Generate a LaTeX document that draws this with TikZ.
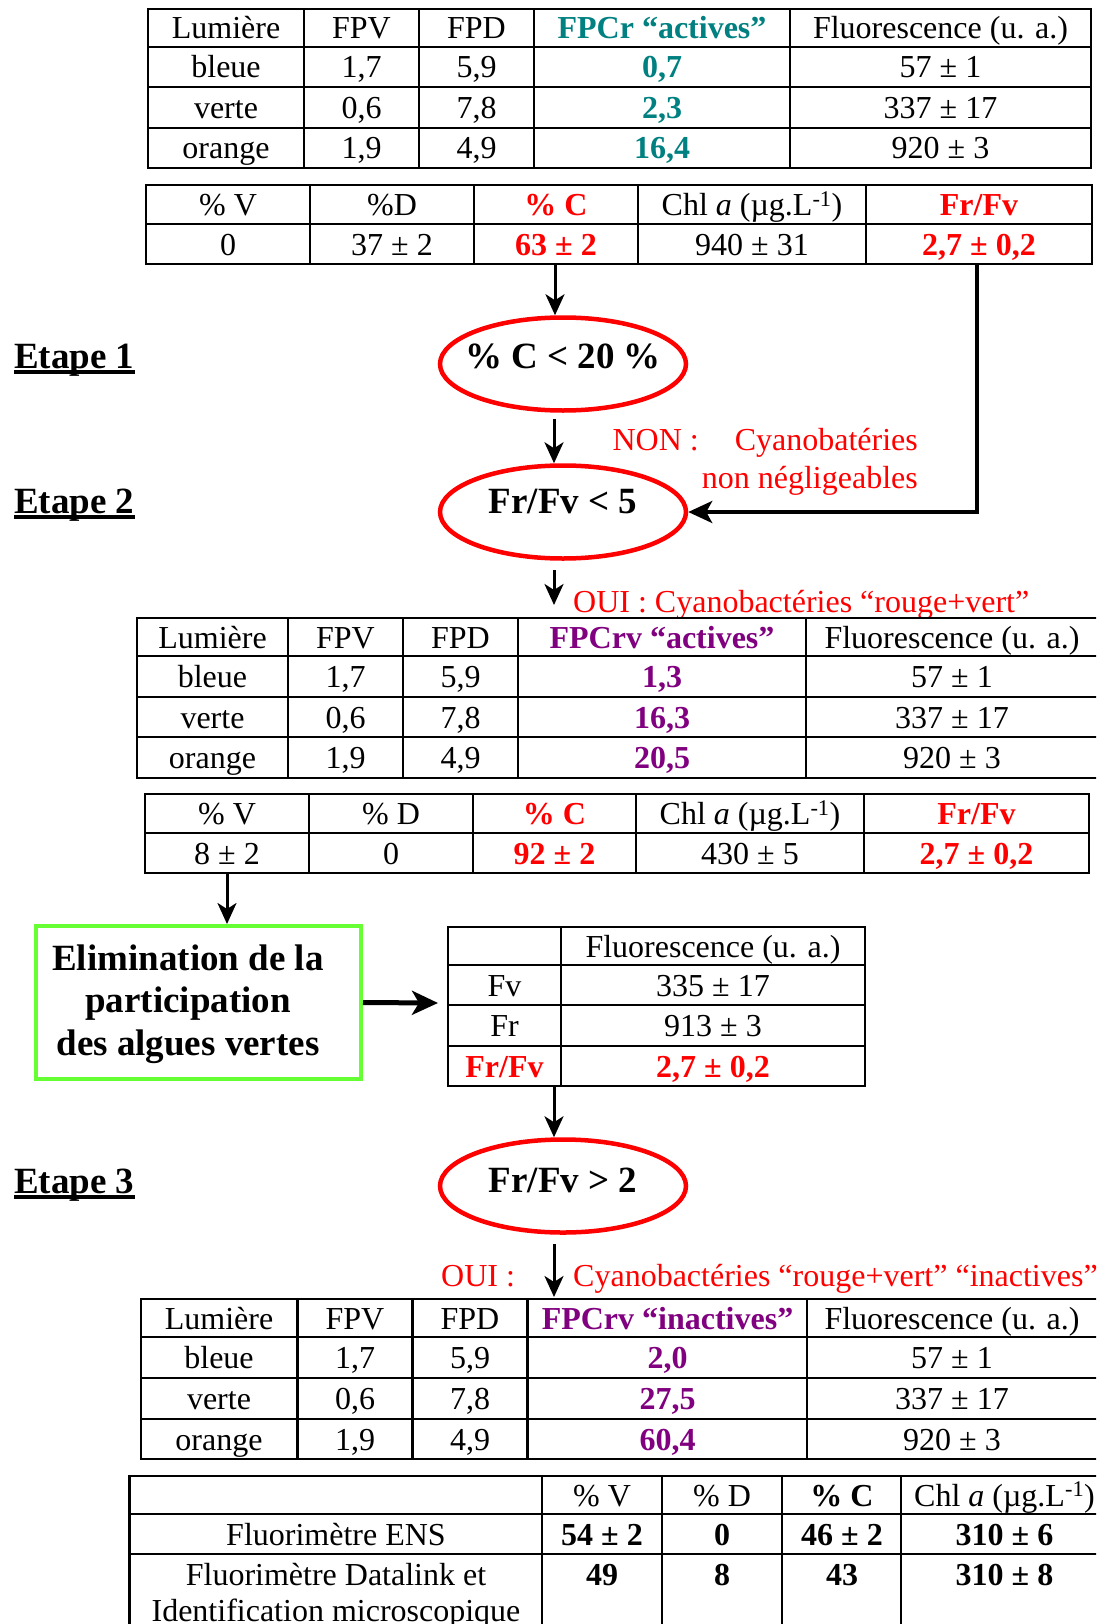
\documentclass[tikz,border=0pt]{standalone}
\usepackage{fontspec}
\setmainfont{Liberation Serif}
\usetikzlibrary{positioning,arrows.meta,shapes.geometric}
\definecolor{cteal}{RGB}{0,128,128}
\definecolor{cpurple}{RGB}{128,0,128}
\definecolor{cred}{RGB}{255,0,0}
\definecolor{cgreen}{RGB}{102,255,51}

\begin{document}
\begin{tikzpicture}[x=1pt, y=-1pt,
  every node/.style={font=\fontsize{32}{38}\selectfont},
  cell/.style={anchor=base, yshift=-11pt, inner sep=0pt},
  bcell/.style={cell, font=\fontsize{32}{38}\selectfont\bfseries},
  tealb/.style={bcell, text=cteal},
  purpb/.style={bcell, text=cpurple},
  redb/.style={bcell, text=cred},
  tab/.style={line width=2.5pt},
  cond/.style={ellipse, draw=cred, line width=4.5pt, minimum width=246pt, minimum height=93pt,
    inner xsep=-30pt, inner ysep=0pt, text height=26pt, text depth=18pt,
    font=\fontsize{37}{42}\selectfont\bfseries},
  etape/.style={anchor=base west, inner sep=0pt, font=\fontsize{37}{42}\selectfont\bfseries},
  note/.style={text=cred, inner sep=0pt},
  arr/.style={-{Stealth[length=21pt, width=19pt, inset=6pt]}, line width=3pt}]
  \useasboundingbox (0,0) rectangle (1096,1624);
  \clip (0,0) rectangle (1096,1624);

  % Table 1: FPCr actives
  \draw[tab] (148,9) rectangle (1091,168);
  \draw[tab] (148,47) -- (1091,47) (148,87) -- (1091,87) (148,128) -- (1091,128)
    (304,9) -- (304,168) (419,9) -- (419,168) (534,9) -- (534,168) (790,9) -- (790,168);
  \node[cell] (a11) at (226,28) {Lumière};
  \node[cell] (a12) at (361.5,28) {FPV};
  \node[cell] (a13) at (476.5,28) {FPD};
  \node[tealb] (a14) at (662,28) {FPCr “actives”};
  \node[cell] (a15) at (940.5,28) {Fluorescence (u. a.)};
  \node[cell] (a21) at (226,67) {bleue};
  \node[cell] (a22) at (361.5,67) {1,7};
  \node[cell] (a23) at (476.5,67) {5,9};
  \node[tealb] (a24) at (662,67) {0,7};
  \node[cell] (a25) at (940.5,67) {57 ± 1};
  \node[cell] (a31) at (226,107.5) {verte};
  \node[cell] (a32) at (361.5,107.5) {0,6};
  \node[cell] (a33) at (476.5,107.5) {7,8};
  \node[tealb] (a34) at (662,107.5) {2,3};
  \node[cell] (a35) at (940.5,107.5) {337 ± 17};
  \node[cell] (a41) at (226,148) {orange};
  \node[cell] (a42) at (361.5,148) {1,9};
  \node[cell] (a43) at (476.5,148) {4,9};
  \node[tealb] (a44) at (662,148) {16,4};
  \node[cell] (a45) at (940.5,148) {920 ± 3};

  % Table 2: composition before step 1
  \draw[tab] (146,185) rectangle (1092,264);
  \draw[tab] (146,224) -- (1092,224)
    (310,185) -- (310,264) (474,185) -- (474,264) (638,185) -- (638,264) (866,185) -- (866,264);
  \node[cell] (b11) at (228,204.5) {\% V};
  \node[cell] (b12) at (392,204.5) {\%D};
  \node[redb] (b13) at (556,204.5) {\% C};
  \node[cell] (b14) at (752,204.5) {Chl \textit{a} (µg.L\textsuperscript{-1})};
  \node[redb] (b15) at (979,204.5) {Fr/Fv};
  \node[cell] (b21) at (228,244) {0};
  \node[cell] (b22) at (392,244) {37 ± 2};
  \node[redb] (b23) at (556,244) {63 ± 2};
  \node[cell] (b24) at (752,244) {940 ± 31};
  \node[redb] (b25) at (979,244) {2,7 ± 0,2};
  \coordinate (pc1) at (555,264);
  \coordinate (fr1) at (977,264);

  % Steps 1 and 2
  \node[etape] (et1) at (14,368) {Etape 1};
  \draw[line width=4pt] ([yshift=-4pt]et1.base west) -- ([yshift=-4pt]et1.base east);
  \node[etape] (et2) at (14,513) {Etape 2};
  \draw[line width=4pt] ([yshift=-4pt]et2.base west) -- ([yshift=-4pt]et2.base east);
  \node[cond] (c1) at (563,364) {\% C < 20 \%};
  \node[cond, text depth=24pt] (c2) at (563,512) {Fr/Fv < 5};
  \draw[arr] (pc1) -- ([xshift=-8pt]c1.north);
  \draw[arr] ([xshift=-9pt,yshift=-6pt]c1.south) -- ([xshift=-9pt]c2.north);
  \draw[line width=3.5pt, -{Stealth[length=24pt, width=22pt, inset=6pt]}] (fr1) |- (c2.east);
  \node[note, anchor=base east] (non1) at (918,450) {NON :\hspace{36pt}Cyanobatéries};
  \node[note, anchor=base east] (non2) at (918,488) {non négligeables};
  \coordinate (t3n) at (554,605);
  \draw[arr] ([xshift=-9pt,yshift=-9.5pt]c2.south) -- (t3n);
  \node[note, anchor=base west] (oui1) at (573,612) {OUI : Cyanobactéries “rouge+vert”};

  % Table 3: FPCrv actives
  \draw[tab] (137,618) rectangle (1100,778);
  \draw[tab] (137,656) -- (1100,656) (137,697) -- (1100,697) (137,737) -- (1100,737)
    (288,618) -- (288,778) (403,618) -- (403,778) (518,618) -- (518,778) (806,618) -- (806,778);
  \node[cell] (c11) at (212.5,637) {Lumière};
  \node[cell] (c12) at (345.5,637) {FPV};
  \node[cell] (c13) at (460.5,637) {FPD};
  \node[purpb] (c14) at (662,637) {FPCrv “actives”};
  \node[cell] (c15) at (952,637) {Fluorescence (u. a.)};
  \node[cell] (c21) at (212.5,676.5) {bleue};
  \node[cell] (c22) at (345.5,676.5) {1,7};
  \node[cell] (c23) at (460.5,676.5) {5,9};
  \node[purpb] (c24) at (662,676.5) {1,3};
  \node[cell] (c25) at (952,676.5) {57 ± 1};
  \node[cell] (c31) at (212.5,717) {verte};
  \node[cell] (c32) at (345.5,717) {0,6};
  \node[cell] (c33) at (460.5,717) {7,8};
  \node[purpb] (c34) at (662,717) {16,3};
  \node[cell] (c35) at (952,717) {337 ± 17};
  \node[cell] (c41) at (212.5,757.5) {orange};
  \node[cell] (c42) at (345.5,757.5) {1,9};
  \node[cell] (c43) at (460.5,757.5) {4,9};
  \node[purpb] (c44) at (662,757.5) {20,5};
  \node[cell] (c45) at (952,757.5) {920 ± 3};

  % Table 4: composition after step 2
  \draw[tab] (145,794) rectangle (1089,873);
  \draw[tab] (145,833) -- (1089,833)
    (309,794) -- (309,873) (473,794) -- (473,873) (636,794) -- (636,873) (864,794) -- (864,873);
  \node[cell] (d11) at (227,813.5) {\% V};
  \node[cell] (d12) at (391,813.5) {\% D};
  \node[redb] (d13) at (554.5,813.5) {\% C};
  \node[cell] (d14) at (750,813.5) {Chl \textit{a} (µg.L\textsuperscript{-1})};
  \node[redb] (d15) at (976.5,813.5) {Fr/Fv};
  \node[cell] (d21) at (227,853) {8 ± 2};
  \node[cell] (d22) at (391,853) {0};
  \node[redb] (d23) at (554.5,853) {92 ± 2};
  \node[cell] (d24) at (750,853) {430 ± 5};
  \node[redb] (d25) at (976.5,853) {2,7 ± 0,2};
  \coordinate (pv2) at (227,873);

  % Green algae removal
  \node[draw=cgreen, line width=4pt, minimum width=325pt, minimum height=153pt, inner sep=0pt] (elim) at (198.5,1002.5) {};
  \node[align=center, inner sep=0pt, font=\fontsize{37}{42.5}\selectfont\bfseries] (elimtxt) at (188,1004)
    {Elimination de la\\participation\\des algues vertes};
  \draw[arr] (pv2) -- (elim.north -| pv2);
  \coordinate (t5in) at (438,1003);
  \draw[line width=5pt, -{Stealth[length=26pt, width=24pt, inset=7pt]}] (elim.east) -- (t5in);

  % Table 5: Fv and Fr
  \draw[tab] (448,927) rectangle (865,1086);
  \draw[tab] (448,965) -- (865,965) (448,1005) -- (865,1005) (448,1046) -- (865,1046)
    (561,927) -- (561,1086);
  \node[cell] (e12) at (713,946) {Fluorescence (u. a.)};
  \node[cell] (e21) at (504.5,985) {Fv};
  \node[cell] (e22) at (713,985) {335 ± 17};
  \node[cell] (e31) at (504.5,1025.5) {Fr};
  \node[cell] (e32) at (713,1025.5) {913 ± 3};
  \node[redb] (e41) at (504.5,1066) {Fr/Fv};
  \node[redb] (e42) at (713,1066) {2,7 ± 0,2};
  \coordinate (t5s) at (554,1086);

  % Step 3
  \node[etape] (et3) at (14,1193) {Etape 3};
  \draw[line width=4pt] ([yshift=-4pt]et3.base west) -- ([yshift=-4pt]et3.base east);
  \node[cond, text depth=13pt] (c3) at (563,1186) {Fr/Fv > 2};
  \draw[arr] (t5s) -- ([xshift=-9pt]c3.north);
  \coordinate (t6n) at (554,1297);
  \draw[arr] ([xshift=-9pt,yshift=-9.5pt]c3.south) -- (t6n);
  \node[note, anchor=base west] (oui2) at (441,1286) {OUI :};
  \node[note, anchor=base west] (oui3) at (573,1286) {Cyanobactéries “rouge+vert” “inactives”};

  % Table 6: FPCrv inactives
  \draw[tab] (141,1299) rectangle (1100,1459);
  \draw[tab] (141,1337) -- (1100,1337) (141,1378) -- (1100,1378) (141,1419) -- (1100,1419)
    (297.5,1299) -- (297.5,1459) (412.5,1299) -- (412.5,1459) (527.5,1299) -- (527.5,1459) (807,1299) -- (807,1459);
  \node[cell] (f11) at (219,1318) {Lumière};
  \node[cell] (f12) at (355,1318) {FPV};
  \node[cell] (f13) at (470,1318) {FPD};
  \node[purpb] (f14) at (667.5,1318) {FPCrv “inactives”};
  \node[cell] (f15) at (952,1318) {Fluorescence (u. a.)};
  \node[cell] (f21) at (219,1357.5) {bleue};
  \node[cell] (f22) at (355,1357.5) {1,7};
  \node[cell] (f23) at (470,1357.5) {5,9};
  \node[purpb] (f24) at (667.5,1357.5) {2,0};
  \node[cell] (f25) at (952,1357.5) {57 ± 1};
  \node[cell] (f31) at (219,1398.5) {verte};
  \node[cell] (f32) at (355,1398.5) {0,6};
  \node[cell] (f33) at (470,1398.5) {7,8};
  \node[purpb] (f34) at (667.5,1398.5) {27,5};
  \node[cell] (f35) at (952,1398.5) {337 ± 17};
  \node[cell] (f41) at (219,1439) {orange};
  \node[cell] (f42) at (355,1439) {1,9};
  \node[cell] (f43) at (470,1439) {4,9};
  \node[purpb] (f44) at (667.5,1439) {60,4};
  \node[cell] (f45) at (952,1439) {920 ± 3};

  % Table 7: comparison of instruments
  \draw[tab] (129.5,1476) rectangle (1108,1640);
  \draw[tab] (129.5,1514) -- (1108,1514) (129.5,1554) -- (1108,1554)
    (542,1476) -- (542,1640) (662,1476) -- (662,1640) (782,1476) -- (782,1640) (901,1476) -- (901,1640);
  \node[cell] (g12) at (602,1495) {\% V};
  \node[cell] (g13) at (722,1495) {\% D};
  \node[bcell] (g14) at (842,1495) {\% C};
  \node[cell] (g15) at (1004.5,1495) {Chl \textit{a} (µg.L\textsuperscript{-1})};
  \node[cell] (g21) at (336,1534) {Fluorimètre ENS};
  \node[bcell] (g22) at (602,1534) {54 ± 2};
  \node[bcell] (g23) at (722,1534) {0};
  \node[bcell] (g24) at (842,1534) {46 ± 2};
  \node[bcell] (g25) at (1004.5,1534) {310 ± 6};
  \node[cell] (g31) at (336,1574) {Fluorimètre Datalink et};
  \node[cell] (g31b) at (336,1610) {Identification microscopique};
  \node[bcell] (g32) at (602,1574) {49};
  \node[bcell] (g33) at (722,1574) {8};
  \node[bcell] (g34) at (842,1574) {43};
  \node[bcell] (g35) at (1004.5,1574) {310 ± 8};
\end{tikzpicture}
\end{document}
